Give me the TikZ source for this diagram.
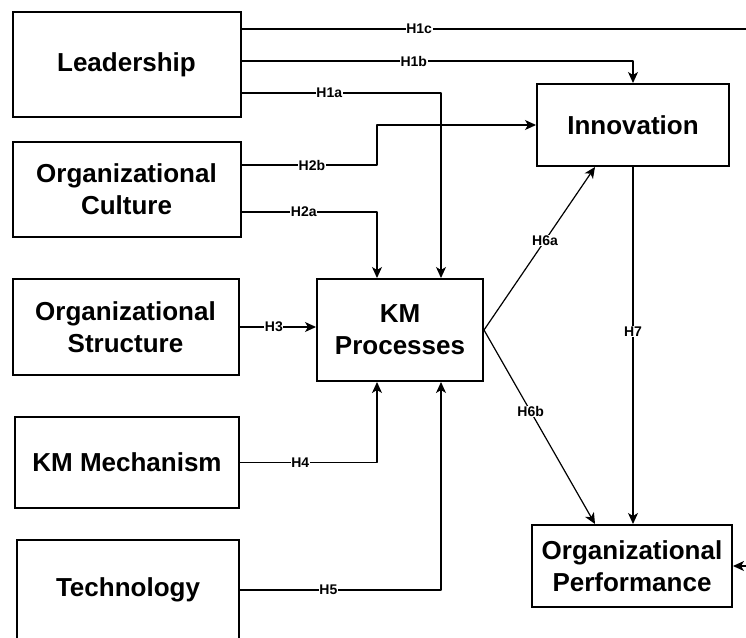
\documentclass[tikz,border=0pt]{standalone}
\usepackage{fontspec}
\setmainfont{Liberation Sans}
\usepackage{xcolor}
\usepackage{tikz}
\usetikzlibrary{arrows.meta,positioning}
\definecolor{ink}{HTML}{000000}
\definecolor{paper}{HTML}{FFFFFF}
\tikzset{
  box/.style={draw=ink, line width=2pt, align=center, inner sep=0pt, text=ink, font=\fontsize{26}{32}\selectfont\bfseries},
  link/.style={draw=ink, line width=1.2pt, line join=round, -{Stealth[length=11pt,width=10pt,inset=3pt]}},
  hyp/.style={fill=paper, inner sep=0.6pt, text=ink, font=\fontsize{14}{15}\selectfont\bfseries},
}

\begin{document}
\begin{tikzpicture}[x=1pt,y=-1pt]
  \useasboundingbox[fill=paper] (0,0) rectangle (746,637);
  % left column
  \foreach \N/\X/\Y/\W/\H/\T in {lead/126.5/64.5/228pt/105pt/Leadership,
      cult/126.5/189.5/228pt/95pt/{Organizational\\Culture},
      struct/125.5/327/226pt/96pt/{Organizational\\Structure},
      mech/127/462.5/224pt/91pt/{KM Mechanism},
      tech/128/590/222pt/100pt/Technology}
    \node[box, minimum width=\W, minimum height=\H] (\N) at (\X,\Y) {\T};
  % right side
  \node[box, minimum width=192pt, minimum height=82pt] (innov) at (633,125) {Innovation};
  \node[box, minimum width=166pt, minimum height=102pt] (km) at (400,330) {KM\\Processes};
  \node[box, minimum width=200pt, minimum height=82pt] (perf) at (632,566) {Organizational\\Performance};
  % rows and columns of the links
  \coordinate (r1c) at (0,29);
  \coordinate (r1b) at (0,61);
  \coordinate (r1a) at (0,93);
  \coordinate (r2b) at (0,165);
  \coordinate (r2a) at (0,212);
  \coordinate (colA) at (441,0);
  \coordinate (colB) at (377,0);
  \coordinate (colC) at (595,0);
  \coordinate (rim) at (764,29);
  % hypotheses
  \draw[link] (lead.east |- r1c) -- node[hyp,pos=0.34]{H1c} (rim) |- (perf.east);
  \draw[link] (lead.east |- r1b) -| node[hyp,pos=0.22]{H1b} (innov.north);
  \draw[link] (lead.east |- r1a) -| node[hyp,pos=0.22]{H1a} (km.north -| colA);
  \draw[link] (cult.east |- r2b) -| node[hyp,pos=0.26]{H2b} (colB |- innov.west) -- (innov.west);
  \draw[link] (cult.east |- r2a) -| node[hyp,pos=0.23]{H2a} (km.north -| colB);
  \draw[link] (struct.east) -- node[hyp,pos=0.45]{H3} (struct.east -| km.west);
  \draw[link] (mech.east) -| node[hyp,pos=0.22]{H4} (km.south -| colB);
  \draw[link] (tech.east) -| node[hyp,pos=0.22]{H5} (km.south -| colA);
  \draw[link] (km.east) -- node[hyp,pos=0.55]{H6a} (innov.south -| colC);
  \draw[link] (km.east) -- node[hyp,pos=0.42]{H6b} (perf.north -| colC);
  \draw[link] (innov.south) -- node[hyp,pos=0.46]{H7} (perf.north -| innov.south);
\end{tikzpicture}
\end{document}
